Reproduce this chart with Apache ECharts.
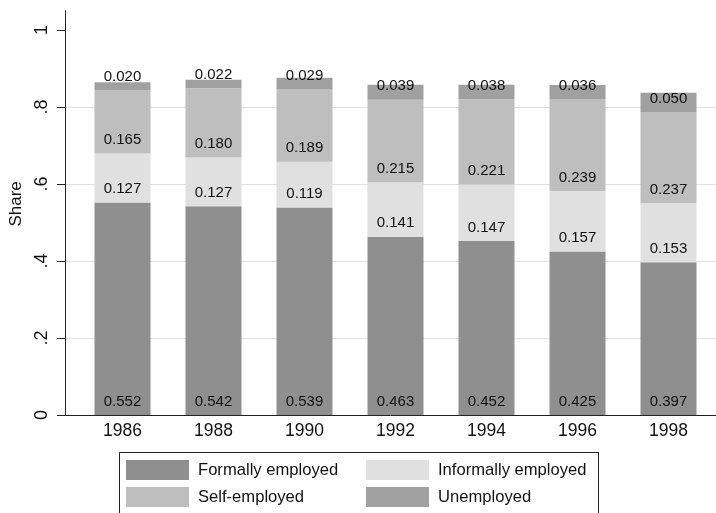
<!DOCTYPE html>
<html>
<head>
<meta charset="utf-8">
<script src="https://cdn.jsdelivr.net/npm/echarts@6/dist/echarts.min.js"></script>
<style>html,body{margin:0;padding:0;background:#fff}#c{width:716px;height:513px}</style>
</head>
<body>
<div id="c"></div>
<script>
const categories = ['1986','1988','1990','1992','1994','1996','1998'];
const formallyEmployed = [0.552, 0.542, 0.539, 0.463, 0.452, 0.425, 0.397];
const informallyEmployed = [0.127, 0.127, 0.119, 0.141, 0.147, 0.157, 0.153];
const selfEmployed = [0.165, 0.180, 0.189, 0.215, 0.221, 0.239, 0.237];
const unemployed = [0.020, 0.022, 0.029, 0.039, 0.038, 0.036, 0.050];
const yTicks = [0, 0.2, 0.4, 0.6, 0.8, 1];
const yTickLabels = ['0', '.2', '.4', '.6', '.8', '1'];
const seriesNames = ['Formally employed', 'Informally employed', 'Self-employed', 'Unemployed'];
const seriesColors = ['#8f8f8f', '#e0e0e0', '#bebebe', '#a0a0a0'];

const FONT = '"Liberation Sans", Arial, sans-serif';
const chart = echarts.init(document.getElementById('c'), null, {renderer: 'canvas'});
const allSeries = [formallyEmployed, informallyEmployed, selfEmployed, unemployed];

const TOP = 10.75, BOTTOM = 98, YMAX = 1.05;

const series = allSeries.map((vals, si) => ({
  name: seriesNames[si],
  type: 'bar',
  stack: 'total',
  xAxisIndex: 0,
  yAxisIndex: 0,
  barWidth: 56,
  itemStyle: {color: seriesColors[si]},
  data: vals,
  label: {
    show: true,
    position: 'insideBottom',
    distance: 6,
    color: '#111',
    fontFamily: FONT,
    fontSize: 15,
    formatter: p => p.value.toFixed(3)
  },
  emphasis: {disabled: true}
}));

const yLabelFmt = v => { const k = yTicks.findIndex(t => Math.abs(t - v) < 1e-6); return k >= 0 ? yTickLabels[k] : ''; };

chart.setOption({
  animation: false,
  backgroundColor: '#fff',
  grid: [
    {left: 77, right: 2, top: TOP, bottom: BOTTOM, containLabel: false},
    {left: 65, right: 0, top: TOP, bottom: BOTTOM, containLabel: false}
  ],
  xAxis: [
    {
      gridIndex: 0,
      type: 'category',
      data: categories,
      boundaryGap: true,
      axisLine: {show: false},
      axisTick: {show: false},
      splitLine: {show: false},
      axisLabel: {fontFamily: FONT, fontSize: 17.5, color: '#111', margin: 7}
    },
    {
      gridIndex: 1,
      type: 'value',
      min: 0, max: 1,
      axisLine: {show: true, onZero: false, lineStyle: {color: '#222', width: 1}},
      axisTick: {show: false},
      axisLabel: {show: false},
      splitLine: {show: false}
    }
  ],
  yAxis: [
    {
      gridIndex: 0,
      type: 'value',
      min: 0, max: YMAX, interval: 0.2,
      show: false,
      splitLine: {show: false}
    },
    {
      gridIndex: 1,
      type: 'value',
      min: 0, max: YMAX, interval: 0.2,
      name: 'Share',
      nameLocation: 'middle',
      nameGap: 38,
      nameTextStyle: {fontFamily: FONT, fontSize: 17, color: '#111', padding: [0, 0, 0, 18]},
      axisLine: {show: true, onZero: false, lineStyle: {color: '#222', width: 1}},
      axisTick: {show: true, length: 8, customValues: yTicks, lineStyle: {color: '#222'}},
      splitLine: {show: true, showMaxLine: false, showMinLine: false, lineStyle: {color: '#e0e0e0', width: 1.2}},
      axisLabel: {
        customValues: yTicks,
        rotate: 90,
        margin: 14,
        fontFamily: FONT, fontSize: 18, color: '#111',
        formatter: yLabelFmt
      }
    }
  ],
  legend: [
    {
      data: [seriesNames[0], seriesNames[2]],
      orient: 'vertical', left: 126, top: 460, padding: 0,
      itemWidth: 63, itemHeight: 20, itemGap: 7, icon: 'rect',
      selectedMode: false,
      textStyle: {fontFamily: FONT, fontSize: 16.6, color: '#111', padding: [0, 0, 0, 4]}
    },
    {
      data: [seriesNames[1], seriesNames[3]],
      orient: 'vertical', left: 366, top: 460, padding: 0,
      itemWidth: 63, itemHeight: 20, itemGap: 7, icon: 'rect',
      selectedMode: false,
      textStyle: {fontFamily: FONT, fontSize: 16.6, color: '#111', padding: [0, 0, 0, 4]}
    }
  ],
  graphic: [{
    type: 'rect',
    shape: {x: 119.5, y: 452.5, width: 479, height: 90},
    style: {fill: 'none', stroke: '#222', lineWidth: 1},
    silent: true, z: -1
  }],
  series: series
});
</script>
</body>
</html>
